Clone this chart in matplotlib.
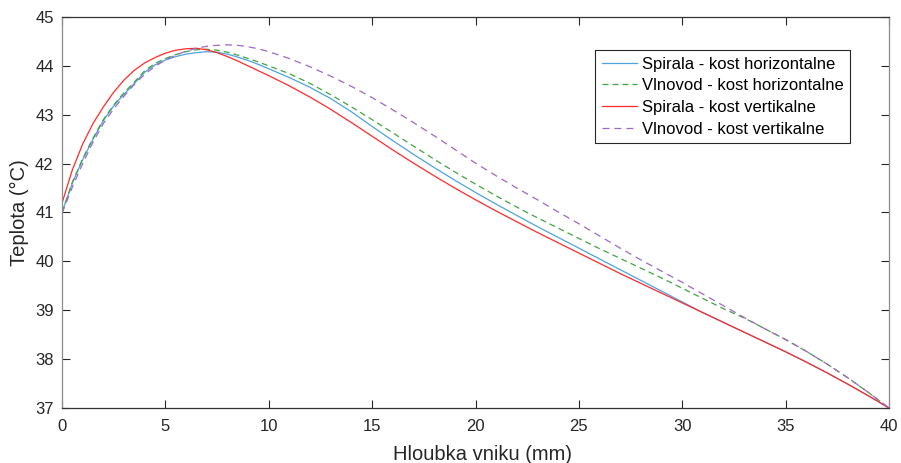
import matplotlib
matplotlib.use("Agg")
import matplotlib.pyplot as plt

plt.rcParams['font.family'] = ['Liberation Sans', 'DejaVu Sans']
plt.rcParams['lines.scale_dashes'] = False

# hloubka vniku [mm]
depth = [0, 0.5, 1, 1.5, 2, 2.5, 3, 3.5, 4, 4.5, 5, 5.5, 6, 6.5, 7, 7.5, 8, 8.5, 9, 9.5, 10,
         11, 12, 13, 14, 15, 16, 17, 18, 19, 20, 21, 22, 23, 24, 25,
         26, 27, 28, 29, 30, 31, 32, 33, 34, 35, 36, 37, 38, 39, 40]

spirala_horiz = [41.00, 41.60, 42.08, 42.50, 42.88, 43.18, 43.42, 43.64, 43.87, 44.02, 44.12,
                 44.19, 44.24, 44.27, 44.29, 44.28, 44.24, 44.18, 44.11, 44.03, 43.94,
                 43.76, 43.56, 43.33, 43.06, 42.76,
                 42.47, 42.19, 41.92, 41.66, 41.41, 41.17, 40.94, 40.71, 40.49, 40.27,
                 40.05, 39.83, 39.61, 39.39, 39.17, 38.95, 38.75, 38.55, 38.35, 38.15,
                 37.94, 37.72, 37.49, 37.25, 37.00]

vlnovod_horiz = [41.00, 41.62, 42.10, 42.52, 42.90, 43.20, 43.45, 43.67, 43.90, 44.05, 44.15,
                 44.23, 44.29, 44.33, 44.34, 44.32, 44.28, 44.22, 44.15, 44.08, 44.00,
                 43.84, 43.64, 43.41, 43.16, 42.90,
                 42.63, 42.36, 42.09, 41.83, 41.58, 41.34, 41.11, 40.89, 40.68, 40.47,
                 40.26, 40.06, 39.86, 39.66, 39.45, 39.24, 39.03, 38.84, 38.62, 38.40,
                 38.16, 37.90, 37.62, 37.32, 37.00]

spirala_vert = [41.19, 41.87, 42.40, 42.82, 43.16, 43.46, 43.71, 43.91, 44.06, 44.17, 44.26,
                44.32, 44.35, 44.36, 44.33, 44.27, 44.19, 44.10, 44.00, 43.90, 43.80,
                43.59, 43.36, 43.11, 42.84, 42.56,
                42.28, 42.01, 41.75, 41.50, 41.26, 41.03, 40.81, 40.59, 40.38, 40.17,
                39.96, 39.75, 39.55, 39.35, 39.15, 38.95, 38.75, 38.55, 38.35, 38.15,
                37.94, 37.72, 37.49, 37.25, 37.00]

vlnovod_vert = [40.98, 41.52, 42.00, 42.44, 42.82, 43.12, 43.38, 43.62, 43.83, 43.99, 44.12,
                44.22, 44.30, 44.36, 44.40, 44.42, 44.43, 44.42, 44.39, 44.35, 44.29,
                44.15, 43.98, 43.79, 43.58, 43.35,
                43.10, 42.84, 42.57, 42.29, 42.01, 41.75, 41.50, 41.26, 41.01, 40.77,
                40.52, 40.27, 40.03, 39.80, 39.57, 39.33, 39.09, 38.85, 38.62, 38.40,
                38.16, 37.90, 37.62, 37.32, 37.00]

fig = plt.figure(figsize=(9.01, 4.63), dpi=100)
ax = fig.add_axes([0.0688, 0.1188, 0.9179, 0.8445])

ax.plot(depth, spirala_horiz, color='#4DA3DD', lw=0.9, label='Spirala - kost horizontalne')
ax.plot(depth, vlnovod_horiz, color='#3FA63F', lw=0.9, dashes=(4.3, 2.9),
        label='Vlnovod - kost horizontalne')
ax.plot(depth, spirala_vert, color='#FF2A2A', lw=0.9, label='Spirala - kost vertikalne')
ax.plot(depth, vlnovod_vert, color='#A066C8', lw=0.9, dashes=(5.0, 3.6),
        label='Vlnovod - kost vertikalne')

ax.set_xlim(0, 40)
ax.set_ylim(37, 45)
ax.set_xticks(range(0, 41, 5))
ax.set_yticks(range(37, 46))

for side, s in ax.spines.items():
    s.set_linewidth(0.9)
    s.set_color('#333333' if side in ('top', 'bottom') else '#8C8C8C')
ax.tick_params(direction='in', top=True, right=True, length=6, width=0.8,
               colors='#262626', labelsize=12)
ax.tick_params(axis='x', pad=8)
ax.tick_params(axis='y', pad=6)

ax.set_xlabel('Hloubka vniku (mm)', fontsize=14.5, color='#262626')
ax.xaxis.set_label_coords(0.509, -0.095)
ax.set_ylabel('Teplota (°C)', fontsize=14.5, color='#262626', labelpad=4)

leg = ax.legend(loc='upper right', bbox_to_anchor=(0.953, 0.916), fontsize=12,
                frameon=True, fancybox=False, framealpha=1, edgecolor='#262626',
                handlelength=2.1, handletextpad=0.3, borderpad=0.4, labelspacing=0.4,
                borderaxespad=0)
leg.get_frame().set_linewidth(0.8)

fig.savefig('out.png', dpi=100)
plt.close(fig)
